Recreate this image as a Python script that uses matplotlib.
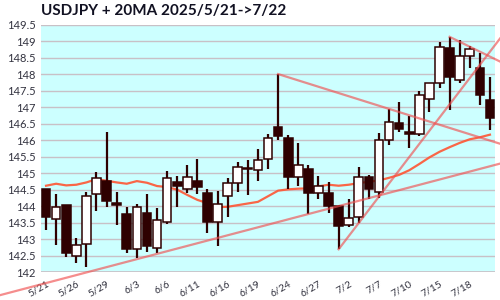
import matplotlib
matplotlib.use("Agg")
import matplotlib.pyplot as plt
from matplotlib.patches import Rectangle

plt.rcParams['font.family'] = ['Lato', 'DejaVu Sans']

# trading days 2025/5/21 -> 7/22
dates = ["5/21", "5/22", "5/23", "5/26", "5/27", "5/28", "5/29", "5/30",
         "6/2", "6/3", "6/4", "6/5", "6/6", "6/9", "6/10", "6/11", "6/12", "6/13",
         "6/16", "6/17", "6/18", "6/19", "6/20", "6/23", "6/24", "6/25", "6/26", "6/27",
         "6/30", "7/1", "7/2", "7/3", "7/4", "7/7", "7/8", "7/9", "7/10", "7/11",
         "7/14", "7/15", "7/16", "7/17", "7/18", "7/21", "7/22"]

opens = [144.52, 143.60, 144.02, 142.48, 142.85, 144.36, 144.76, 144.10, 143.76, 142.69,
         143.78, 142.72, 143.53, 144.72, 144.51, 144.76, 144.39, 143.53, 144.31, 144.69,
         145.17, 145.09, 145.42, 146.40, 146.07, 144.88, 145.13, 144.39, 144.39, 144.00,
         143.42, 143.68, 144.88, 144.44, 146.02, 146.53, 146.24, 146.19, 147.25, 147.73,
         148.79, 147.82, 148.56, 148.20, 147.22]
highs = [144.52, 144.37, 144.03, 143.03, 144.43, 145.04, 146.24, 144.43, 143.96, 144.06,
         144.36, 143.93, 145.07, 144.92, 145.25, 145.43, 144.52, 144.46, 144.85, 145.33,
         145.40, 145.73, 146.19, 148.01, 146.15, 145.92, 145.24, 144.92, 144.73, 144.03,
         144.22, 145.18, 144.94, 146.23, 146.96, 147.17, 146.75, 147.50, 147.73, 148.99,
         149.14, 149.05, 148.86, 148.64, 147.93]
lows = [143.28, 142.82, 142.45, 142.26, 142.14, 143.86, 143.98, 143.44, 142.57, 142.42,
        142.62, 142.57, 143.46, 143.98, 144.41, 144.36, 143.19, 142.80, 143.66, 144.42,
        144.35, 144.77, 145.14, 146.01, 144.52, 144.61, 143.76, 144.21, 143.80, 142.69,
        143.36, 143.48, 144.21, 144.24, 145.85, 146.26, 145.78, 146.13, 146.87, 147.58,
        146.93, 147.75, 148.20, 147.07, 146.31]
closes = [143.68, 143.96, 142.59, 142.81, 144.30, 144.85, 144.17, 144.04, 142.69, 143.96,
          142.80, 143.57, 144.85, 144.62, 144.88, 144.59, 143.51, 144.07, 144.69, 145.20,
          145.12, 145.40, 146.06, 146.13, 144.89, 145.24, 144.41, 144.62, 144.00, 143.41,
          143.64, 144.88, 144.52, 146.01, 146.55, 146.34, 146.20, 147.38, 147.73, 148.82,
          147.91, 148.55, 148.77, 147.38, 146.69]

ma20 = [144.62, 144.68, 144.63, 144.65, 144.72, 144.82, 144.77, 144.72, 144.68, 144.76,
        144.71, 144.61, 144.58, 144.50, 144.34, 144.19, 144.09, 143.97, 143.98, 144.03,
        144.08, 144.13, 144.30, 144.47, 144.51, 144.53, 144.54, 144.60, 144.65, 144.62,
        144.65, 144.70, 144.74, 144.78, 144.86, 144.95, 145.09, 145.28, 145.48, 145.65,
        145.79, 145.92, 146.03, 146.09, 146.17]

# trend lines: two anchor points (day index, price); extend_left for the long support
trend_lines = [
    ((9, 142.39), (26, 143.76), True),
    ((23, 148.01), (36, 146.76), False),
    ((40, 149.14), (42, 148.84), False),
    ((29, 142.69), (31, 143.49), False),
]

yticks = [142 + 0.5 * k for k in range(16)]

fig = plt.figure(figsize=(5, 3), dpi=100)
ax = fig.add_axes([0.082, 0.0933, 0.908, 0.8234])
ax.set_facecolor("#ccffff")

n = len(dates)
x = list(range(n))
ax.set_xlim(-0.5, n - 0.5)
ax.set_ylim(142, 149.5)

for s in ax.spines.values():
    s.set_visible(False)
ax.set_yticks(yticks)
ax.set_yticklabels([("%g" % v) for v in yticks])
ax.yaxis.grid(True, color="#c8c0c6", lw=1)
ax.set_axisbelow(True)
ax.axhline(142, color="#c8c0c6", lw=1.2, zorder=1)
ax.tick_params(axis="y", length=0, pad=4, labelsize=8, labelcolor="#333340")

ax.set_xticks(x[::3])
ax.set_xticklabels(dates[::3], rotation=30, ha="right", va="top",
                   rotation_mode="anchor")
ax.tick_params(axis="x", length=0, pad=5, labelsize=7.5, labelcolor="#333340")

ax.plot(x, ma20, color="#ff5533", lw=1.6, alpha=0.9, zorder=2)

dark = "#2e0000"
w = 0.86
for i in x:
    o, h, l, c = opens[i], highs[i], lows[i], closes[i]
    ax.plot([i, i], [l, h], color=dark, lw=1.6, zorder=3, solid_capstyle="butt")
    bottom = min(o, c)
    height = max(abs(c - o), 0.04)
    face = "white" if c > o else dark
    ax.add_patch(Rectangle((i - w / 2, bottom), w, height, facecolor=face,
                           edgecolor=dark, lw=1.1, zorder=4))

ax.set_title("USDJPY + 20MA 2025/5/21->7/22", loc="left", fontsize=11,
             fontweight="bold", color="#111122", pad=7)

# data x range of the whole figure width, for extending the trend lines
inv = ax.transData.inverted()
x_left = inv.transform((0, 0))[0]
x_right = inv.transform((fig.bbox.width, 0))[0]
for (x0, y0), (x1, y1), ext_left in trend_lines:
    slope = (y1 - y0) / (x1 - x0)
    xs = x_left if ext_left else x0
    ax.plot([xs, x_right], [y0 + slope * (xs - x0), y0 + slope * (x_right - x0)],
            color="#f05050", lw=1.6, alpha=0.65, zorder=5, clip_on=False)

fig.savefig("out.png", dpi=100)
